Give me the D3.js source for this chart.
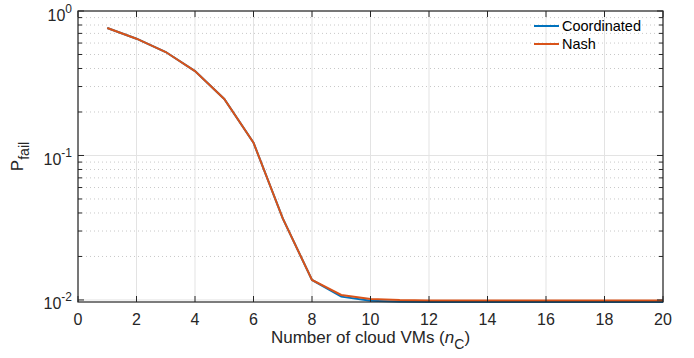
<!DOCTYPE html>
<html>
<head>
<meta charset="utf-8">
<script src="https://cdn.jsdelivr.net/npm/d3@7"></script>
<style>
  body { margin: 0; background: #fff; }
  svg { display: block; font-family: "Liberation Sans", Arial, Helvetica, sans-serif; }
</style>
</head>
<body>
<svg id="chart"></svg>
<script>
// datos
const nC = [1, 2, 3, 4, 5, 6, 7, 8, 9, 10, 11, 12, 13, 14, 15, 16, 17, 18, 19, 20];
const coordinated = [0.763, 0.643, 0.52, 0.384, 0.246, 0.1225, 0.0367, 0.01375, 0.01054, 0.00989,
  0.00972, 0.00969, 0.00968, 0.00968, 0.00968, 0.00968, 0.00968, 0.00968, 0.00968, 0.00968];
const nash = [0.763, 0.643, 0.52, 0.384, 0.246, 0.1225, 0.0367, 0.01375, 0.01083, 0.01016,
  0.00998, 0.00992, 0.0099, 0.0099, 0.0099, 0.0099, 0.0099, 0.0099, 0.0099, 0.0099];
const xTicks = [0, 2, 4, 6, 8, 10, 12, 14, 16, 18, 20];
const yTicks = [1, 0.1, 0.01];
const seriesNames = ["Coordinated", "Nash"];
const colors = ["#0072BD", "#D95319"];

const W = 694, H = 358;
const margin = { top: 11, right: 31, bottom: 56, left: 78 };
const width = W - margin.left - margin.right;
const height = H - margin.top - margin.bottom;

const svg = d3.select("#chart").attr("width", W).attr("height", H);
const g = svg.append("g").attr("transform", `translate(${margin.left},${margin.top})`);

const x = d3.scaleLinear().domain([0, 20]).range([0, width]);
const y = d3.scaleLog().domain([0.00968, 1]).range([height, 0]);

// ticks menores del eje log
const minor = [];
[0.01, 0.1].forEach(d => { for (let k = 2; k <= 9; k++) minor.push(d * k); });

// rejilla
g.append("g").selectAll("line").data(minor).join("line")
    .attr("x1", 0).attr("x2", width)
    .attr("y1", d => y(d)).attr("y2", d => y(d))
    .attr("stroke", "#c8c8c8").attr("stroke-width", 1).attr("stroke-dasharray", "1,3");
g.append("g").selectAll("line").data(yTicks).join("line")
    .attr("x1", 0).attr("x2", width)
    .attr("y1", d => y(d)).attr("y2", d => y(d))
    .attr("stroke", "#e3e3e3").attr("stroke-width", 1);
g.append("g").selectAll("line").data(xTicks).join("line")
    .attr("x1", d => x(d)).attr("x2", d => x(d))
    .attr("y1", 0).attr("y2", height)
    .attr("stroke", "#e3e3e3").attr("stroke-width", 1);

// líneas
const line = d3.line().x((d, i) => x(nC[i])).y(d => y(d));
[coordinated, nash].forEach((s, i) => {
  g.append("path")
      .datum(s)
      .attr("fill", "none")
      .attr("stroke", colors[i])
      .attr("stroke-width", 2)
      .attr("d", line);
});

// caja y ticks
const axisColor = "#262626";
g.append("rect").attr("width", width).attr("height", height)
    .attr("fill", "none").attr("stroke", axisColor).attr("stroke-width", 1.2);

const tk = g.append("g").attr("stroke", axisColor).attr("stroke-width", 1);
xTicks.forEach(d => {
  tk.append("line").attr("x1", x(d)).attr("x2", x(d)).attr("y1", height).attr("y2", height - 6);
  tk.append("line").attr("x1", x(d)).attr("x2", x(d)).attr("y1", 0).attr("y2", 6);
});
yTicks.forEach(d => {
  tk.append("line").attr("x1", 0).attr("x2", 6).attr("y1", y(d)).attr("y2", y(d));
  tk.append("line").attr("x1", width).attr("x2", width - 6).attr("y1", y(d)).attr("y2", y(d));
});
minor.forEach(d => {
  tk.append("line").attr("x1", 0).attr("x2", 4).attr("y1", y(d)).attr("y2", y(d));
  tk.append("line").attr("x1", width).attr("x2", width - 4).attr("y1", y(d)).attr("y2", y(d));
});

// etiquetas de ticks
g.append("g").selectAll("text").data(xTicks).join("text")
    .attr("x", d => x(d)).attr("y", height + 23)
    .attr("text-anchor", "middle").attr("font-size", 16).attr("fill", axisColor)
    .text(d => d);

const yl = g.append("g").selectAll("text").data(yTicks).join("text")
    .attr("x", -6).attr("y", d => y(d) + 9.5)
    .attr("text-anchor", "end").attr("font-size", 16).attr("fill", axisColor);
yl.append("tspan").text("10");
yl.append("tspan").attr("dy", -8).attr("font-size", 12).text(d => Math.round(Math.log10(d)));

// títulos de ejes
const xt = svg.append("text")
    .attr("x", margin.left + width / 2).attr("y", 343)
    .attr("text-anchor", "middle").attr("font-size", 17).attr("fill", axisColor);
xt.append("tspan").text("Number of cloud VMs (");
xt.append("tspan").attr("font-style", "italic").text("n");
xt.append("tspan").attr("dy", 6).attr("font-size", 14).text("C");
xt.append("tspan").attr("dy", -6).text(")");

const ytl = svg.append("text")
    .attr("transform", `translate(23,${margin.top + height / 2}) rotate(-90)`)
    .attr("text-anchor", "middle").attr("font-size", 17).attr("fill", axisColor);
ytl.append("tspan").text("P");
ytl.append("tspan").attr("dy", 6).attr("font-size", 14).text("fail");

// leyenda
const leg = g.append("g").attr("transform", `translate(${534 - margin.left},${26 - margin.top})`);
seriesNames.forEach((name, i) => {
  const row = leg.append("g").attr("transform", `translate(0,${i * 18})`);
  row.append("line").attr("x1", 0).attr("x2", 25).attr("y1", 0).attr("y2", 0)
      .attr("stroke", colors[i]).attr("stroke-width", 2);
  row.append("text").attr("x", 28).attr("y", 5)
      .attr("font-size", 14.5).attr("fill", "#000").text(name);
});
</script>
</body>
</html>
